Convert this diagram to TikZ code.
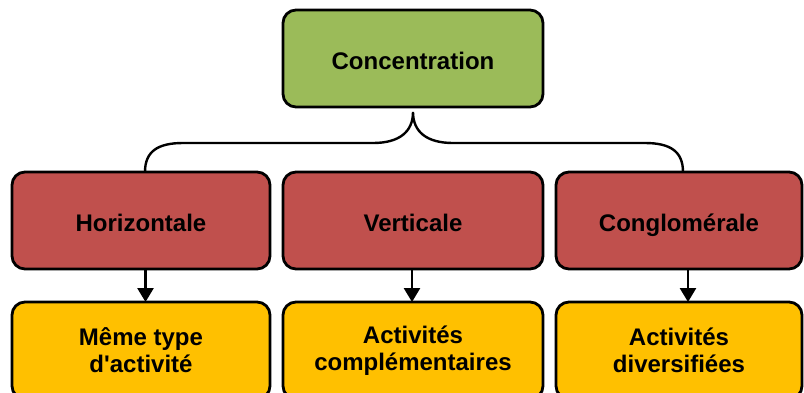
\documentclass[tikz,border=0pt]{standalone}
\usepackage{fontspec}
\setmainfont{Liberation Sans}
\usepackage{tikz}
\usetikzlibrary{
  arrows.meta,
  matrix,
  calc,
  positioning
}
\definecolor{leafgreen}{HTML}{9BBB59}
\definecolor{brickred}{HTML}{C0504D}
\definecolor{ambery}{HTML}{FFC000}

\begin{document}
\begin{tikzpicture}[
      box/.style={
         rectangle,
         rounded corners=6.5pt,
         line width=1.4pt,
         draw=black,
         inner sep=2pt,
         outer sep=0pt,
         align=center,
         minimum height=48.5pt,
         font=\bfseries\fontsize{12pt}{13.5pt}\selectfont
      },
      root/.style={box, fill=leafgreen, minimum width=130pt, text height=12pt, text depth=1pt},
      kind/.style={box, fill=brickred, text height=12pt, text depth=1pt},
      scope/.style={box, fill=ambery},
      tip/.style={-{Triangle[width=8pt,length=7pt]}, line width=1.3pt},
      brace/.style={line width=1.2pt}
    ]
    \useasboundingbox (0,0) rectangle (402pt,-196pt);
    \matrix (m) at (5.3pt,-4.3pt) [anchor=north west, inner sep=0pt, outer sep=0pt,
       column sep=5.1pt, row sep=15.1pt] {
 & \node (n12) [root] {Concentration}; & \\[16pt]
\node (n21) [kind, minimum width=129pt] {Horizontale}; & \node (n22) [kind, minimum width=130pt] {Verticale}; & \node (n23) [kind, minimum width=123pt] {Conglomérale};\\
\node (n31) [scope, minimum width=129pt] {Même type\\d\textquotesingle activité}; & \node (n32) [scope, minimum width=130pt] {Activités\\complémentaires}; & \node (n33) [scope, minimum width=123pt] {Activités\\diversifiées};\\
    };
    % brace from the root down to the three kinds
    \coordinate (tip) at ([yshift=-2.5pt]n12.south);
    \coordinate (mid) at ([yshift=-18pt]n12.south);
    \coordinate (bl) at ([xshift=2pt]n21.north);
    \coordinate (br) at ([xshift=2pt]n23.north);
    \draw[brace] (bl) .. controls +(0,10pt) and +(-13pt,0) .. ($(bl |- mid)+(19pt,0)$)
       -- ($(mid)+(-20pt,0)$) .. controls +(13pt,0) and +(0,-10pt) .. (tip)
       .. controls +(0,-10pt) and +(-13pt,0) .. ($(mid)+(20pt,0)$)
       -- ($(br |- mid)+(-19pt,0)$) .. controls +(13pt,0) and +(0,10pt) .. (br);
    % arrows down to the scopes
    \draw[tip] ([xshift=2.25pt]n21.south) -- ([xshift=2.25pt]n31.north);
    \draw[tip] ([xshift=-0.5pt]n22.south) -- ([xshift=-0.5pt]n32.north);
    \draw[tip] ([xshift=4.5pt]n23.south) -- ([xshift=4.5pt]n33.north);
\end{tikzpicture}
\end{document}
